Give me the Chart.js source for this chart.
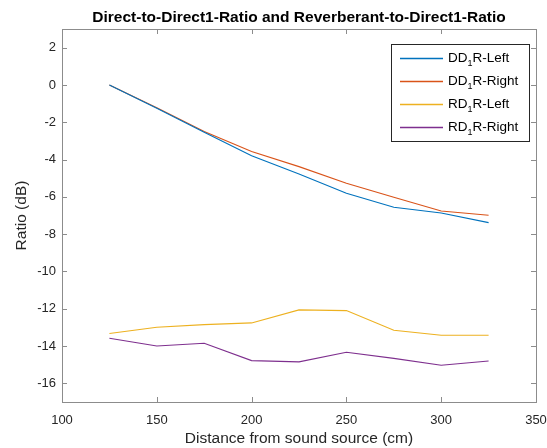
<!DOCTYPE html>
<html>
<head>
<meta charset="utf-8">
<script src="https://cdn.jsdelivr.net/npm/chart.js@4"></script>
<style>
  html, body { margin: 0; padding: 0; background: #fff; }
  #wrap { width: 547px; height: 448px; }
</style>
</head>
<body>
<div id="wrap"><canvas id="ratioChart" width="547" height="448"></canvas></div>
<script>
// distances in cm
const distances = [125, 150, 175, 200, 225, 250, 275, 300, 325];

// ratios in dB
const dd1rLeft = [0, -1.25, -2.54, -3.8, -4.77, -5.81, -6.56, -6.87, -7.38];
const dd1rRight = [0, -1.22, -2.5, -3.57, -4.38, -5.27, -6.02, -6.76, -6.99];
const rd1rLeft = [-13.33, -12.99, -12.85, -12.76, -12.06, -12.1, -13.15, -13.42, -13.42];
const rd1rRight = [-13.58, -14.0, -13.85, -14.78, -14.85, -14.33, -14.66, -15.03, -14.8];

const seriesNames = ["DD\u2081R-Left", "DD\u2081R-Right", "RD\u2081R-Left", "RD\u2081R-Right"];
const xTicks = [100, 150, 200, 250, 300, 350];
const yTicks = [-16, -14, -12, -10, -8, -6, -4, -2, 0, 2];
const chartTitle = "Direct-to-Direct1-Ratio and Reverberant-to-Direct1-Ratio";

const FONT = "'Liberation Sans', Arial, Helvetica, sans-serif";
const AXIS_COLOR = "#262626";
const BOX_COLOR = "#8c8c8c";

function toPoints(values) {
  return distances.map((d, i) => ({ x: d, y: values[i] }));
}

// box around the axes, with MATLAB style inward ticks, and the title over the plot area
const boxPlugin = {
  id: "boxPlugin",
  afterDraw(chart) {
    const ctx = chart.ctx;
    const a = chart.chartArea;
    const xs = chart.scales.x;
    const ys = chart.scales.y;
    const len = 5;
    ctx.save();
    ctx.strokeStyle = BOX_COLOR;
    ctx.lineWidth = 1;
    ctx.strokeRect(Math.round(a.left) + 0.5, Math.round(a.top) + 0.5,
      Math.round(a.right - a.left), Math.round(a.bottom - a.top));
    ctx.beginPath();
    xTicks.forEach(v => {
      const px = Math.round(xs.getPixelForValue(v)) + 0.5;
      ctx.moveTo(px, a.bottom); ctx.lineTo(px, a.bottom - len);
      ctx.moveTo(px, a.top); ctx.lineTo(px, a.top + len);
    });
    yTicks.forEach(v => {
      const py = Math.round(ys.getPixelForValue(v)) + 0.5;
      ctx.moveTo(a.left, py); ctx.lineTo(a.left + len, py);
      ctx.moveTo(a.right, py); ctx.lineTo(a.right - len, py);
    });
    ctx.stroke();

    ctx.fillStyle = "#000";
    ctx.font = "bold 15.5px " + FONT;
    ctx.textAlign = "center";
    ctx.textBaseline = "middle";
    ctx.fillText(chartTitle, (a.left + a.right) / 2, a.top - 11.5);
    ctx.restore();
  }
};

// legend box in the upper right corner
const insideLegend = {
  id: "insideLegend",
  afterDraw(chart) {
    const ctx = chart.ctx;
    const a = chart.chartArea;
    const boxW = 138, rowH = 23.3;
    const boxH = 97;
    const x0 = a.right - 7 - boxW;
    const y0 = a.top + 15;
    ctx.save();
    ctx.fillStyle = "#fff";
    ctx.fillRect(x0, y0, boxW, boxH);
    ctx.strokeStyle = "#262626";
    ctx.lineWidth = 1;
    ctx.strokeRect(Math.round(x0) + 0.5, Math.round(y0) + 0.5, boxW, boxH);
    ctx.textBaseline = "middle";
    chart.data.datasets.forEach((ds, i) => {
      const cy = Math.round(y0 + 13.5 + i * rowH) + 0.5;
      ctx.strokeStyle = ds.borderColor;
      ctx.lineWidth = 1.3;
      ctx.beginPath();
      ctx.moveTo(x0 + 9, cy);
      ctx.lineTo(x0 + 52, cy);
      ctx.stroke();
      // label with a real subscript 1
      const parts = ds.label.split("\u2081");
      ctx.fillStyle = "#000";
      ctx.font = "13.5px " + FONT;
      let tx = x0 + 57;
      ctx.fillText(parts[0], tx, cy);
      tx += ctx.measureText(parts[0]).width;
      ctx.font = "9px " + FONT;
      ctx.fillText("1", tx, cy + 5);
      tx += ctx.measureText("1").width;
      ctx.font = "13.5px " + FONT;
      ctx.fillText(parts[1], tx, cy);
    });
    ctx.restore();
  }
};

new Chart(document.getElementById("ratioChart"), {
  type: "line",
  data: {
    datasets: [
      { label: seriesNames[0], data: toPoints(dd1rLeft), borderColor: "#0072BD" },
      { label: seriesNames[1], data: toPoints(dd1rRight), borderColor: "#D95319" },
      { label: seriesNames[2], data: toPoints(rd1rLeft), borderColor: "#EDB120" },
      { label: seriesNames[3], data: toPoints(rd1rRight), borderColor: "#7E2F8E" }
    ]
  },
  options: {
    responsive: false,
    animation: false,
    devicePixelRatio: 1,
    layout: { padding: { left: 0, right: 11, top: 29, bottom: 0 } },
    elements: {
      line: { borderWidth: 1.1, tension: 0, fill: false },
      point: { radius: 0 }
    },
    plugins: {
      legend: { display: false },
      tooltip: { enabled: false },
      title: { display: false }
    },
    scales: {
      x: {
        type: "linear",
        min: 100,
        max: 350,
        afterBuildTicks: s => { s.ticks = xTicks.map(v => ({ value: v })); },
        afterFit: s => { s.height = 46; s.paddingLeft = 0; s.paddingRight = 0; },
        grid: { display: false, drawTicks: false },
        border: { display: false },
        ticks: { color: AXIS_COLOR, padding: 11, maxRotation: 0, font: { family: FONT, size: 13 } },
        title: {
          display: true,
          text: "Distance from sound source (cm)",
          color: AXIS_COLOR,
          font: { family: FONT, size: 15.5 },
          padding: { top: 0, bottom: 0 }
        }
      },
      y: {
        min: -17,
        max: 3,
        afterBuildTicks: s => { s.ticks = yTicks.map(v => ({ value: v })); },
        afterFit: s => { s.width = 62; s.paddingTop = 0; s.paddingBottom = 0; },
        grid: { display: false, drawTicks: false },
        border: { display: false },
        ticks: { color: AXIS_COLOR, padding: 6, font: { family: FONT, size: 13 } },
        title: {
          display: true,
          text: "Ratio (dB)",
          color: AXIS_COLOR,
          font: { family: FONT, size: 15.5 },
          padding: { top: 12.5, bottom: 0 }
        }
      }
    }
  },
  plugins: [boxPlugin, insideLegend]
});
</script>
</body>
</html>
